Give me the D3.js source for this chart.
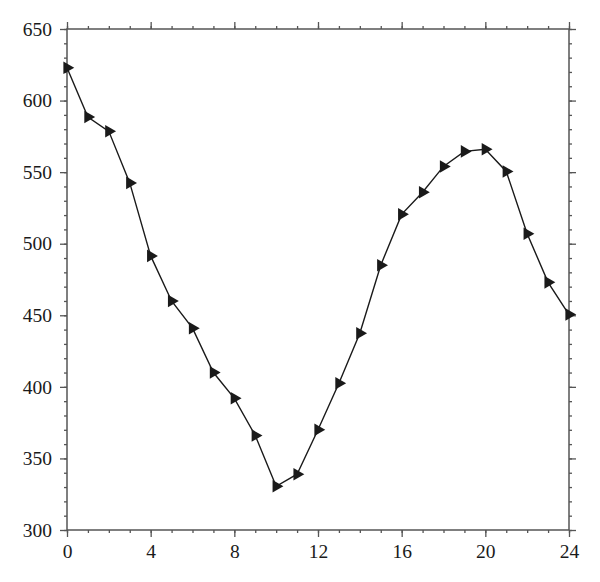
<!DOCTYPE html>
<html><head><meta charset="utf-8">
<script src="https://cdn.jsdelivr.net/npm/d3@7"></script>
<style>body{margin:0;background:#fff}svg{display:block}</style>
</head><body>
<script>
const hours = [0,1,2,3,4,5,6,7,8,9,10,11,12,13,14,15,16,17,18,19,20,21,22,23,24];
const values = [623,588.5,578.5,542.5,491.5,460,441,410,392,366,330.5,339,370,402.5,437.5,485,520.5,536,554,564.5,566,550.5,507,473,450.5];
const xTicks = [0,4,8,12,16,20,24];
const yTicks = [300,350,400,450,500,550,600,650];

const W=600,H=582;
const m={l:67,r:31,t:29,b:52};
const svg=d3.select("body").append("svg").attr("width",W).attr("height",H);
const x=d3.scaleLinear().domain([0,24]).range([m.l,W-m.r]);
const y=d3.scaleLinear().domain([300,650]).range([H-m.b,m.t]);
const axisCol="#555";
const font="'Liberation Serif', 'DejaVu Serif', serif";

svg.append("rect").attr("x",x(0)).attr("y",y(650)).attr("width",x(24)-x(0)).attr("height",y(300)-y(650))
  .attr("fill","none").attr("stroke",axisCol).attr("stroke-width",1.5);

function styleAxis(g){g.select(".domain").remove();g.selectAll(".tick line").attr("stroke",axisCol).attr("stroke-width",1.3);
  g.selectAll("text").attr("font-family",font).attr("font-size",19.5).attr("fill","#1a1a1a");}

const minorX=d3.range(0,25,1), minorY=d3.range(300,651,10);
svg.append("g").attr("transform",`translate(0,${y(300)})`).call(d3.axisBottom(x).tickValues(minorX).tickSize(3).tickFormat("")).call(styleAxis);
svg.append("g").attr("transform",`translate(0,${y(300)})`).call(d3.axisBottom(x).tickValues(xTicks).tickSize(7).tickPadding(7).tickFormat(d3.format("d"))).call(styleAxis);
svg.append("g").attr("transform",`translate(0,${y(650)})`).call(d3.axisTop(x).tickValues(minorX).tickSize(3).tickFormat("")).call(styleAxis);
svg.append("g").attr("transform",`translate(0,${y(650)})`).call(d3.axisTop(x).tickValues(xTicks).tickSize(7).tickFormat("")).call(styleAxis);
svg.append("g").attr("transform",`translate(${x(0)},0)`).call(d3.axisLeft(y).tickValues(minorY).tickSize(3).tickFormat("")).call(styleAxis);
svg.append("g").attr("transform",`translate(${x(0)},0)`).call(d3.axisLeft(y).tickValues(yTicks).tickSize(7).tickPadding(8).tickFormat(d3.format("d"))).call(styleAxis);
svg.append("g").attr("transform",`translate(${x(24)},0)`).call(d3.axisRight(y).tickValues(minorY).tickSize(3).tickFormat("")).call(styleAxis);
svg.append("g").attr("transform",`translate(${x(24)},0)`).call(d3.axisRight(y).tickValues(yTicks).tickSize(7).tickFormat("")).call(styleAxis);

const pts=hours.map((h,i)=>[h,values[i]]);
svg.append("path").datum(pts).attr("fill","none").attr("stroke","#1a1a1a").attr("stroke-width",1.4)
  .attr("d",d3.line().x(d=>x(d[0])).y(d=>y(d[1])));
const tri=d3.symbol().type(d3.symbolTriangle).size(68);
svg.append("g").selectAll("path").data(pts).join("path")
  .attr("d",tri).attr("fill","#1a1a1a")
  .attr("transform",d=>`translate(${x(d[0])},${y(d[1])}) rotate(90)`);
</script>
</body></html>
